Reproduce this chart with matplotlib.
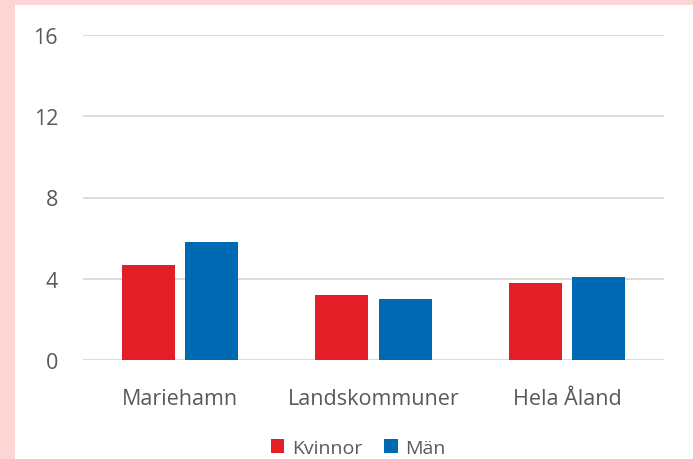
import numpy as np
import matplotlib.pyplot as plt
from matplotlib.patches import Rectangle

categories = ['Mariehamn', 'Landskommuner', 'Hela Åland']
kvinnor = [4.7, 3.2, 3.8]
man = [5.8, 3.0, 4.1]
series_names = ['Kvinnor', 'Män']

plt.rcParams['font.family'] = ['Open Sans', 'DejaVu Sans']
text_col = '#595959'

W, H = 693, 460
fig = plt.figure(figsize=(W / 100, H / 100), dpi=100)
fig.patch.set_facecolor('#FCD5D5')
fig.add_artist(Rectangle((15 / W, 0), 1 - 15 / W, 1 - 6 / H, transform=fig.transFigure,
                         facecolor='white', edgecolor='none', zorder=0))

ax = fig.add_axes([83 / W, 1 - 361 / H, (664 - 83) / W, (361 - 36) / H])
ax.set_facecolor('white')
x = np.arange(len(categories))
w = 0.274
off = 0.163
ax.bar(x - off, kvinnor, w, color='#E31E27', label=series_names[0], zorder=3)
ax.bar(x + off, man, w, color='#0069B4', label=series_names[1], zorder=3)

ax.set_xlim(-0.5, 2.5)
ax.set_ylim(0, 16)
ax.set_yticks([0, 4, 8, 12, 16])
ax.yaxis.grid(True, color='#D9D9D9', linewidth=1.3, zorder=0)
ax.set_xticks(x)
ax.set_xticklabels(categories)
for s in ax.spines.values():
    s.set_visible(False)
ax.tick_params(axis='both', length=0, labelsize=15.5, colors=text_col)
ax.tick_params(axis='x', pad=20)
ax.tick_params(axis='y', pad=18)

fig.legend(loc='center', bbox_to_anchor=(0.517, 1 - 449 / H), ncol=2, frameon=False,
           fontsize=14, labelcolor=text_col, handlelength=0.7, handleheight=0.7,
           handletextpad=0.4, columnspacing=1.1)

fig.savefig('out.png', dpi=100, facecolor=fig.get_facecolor())
